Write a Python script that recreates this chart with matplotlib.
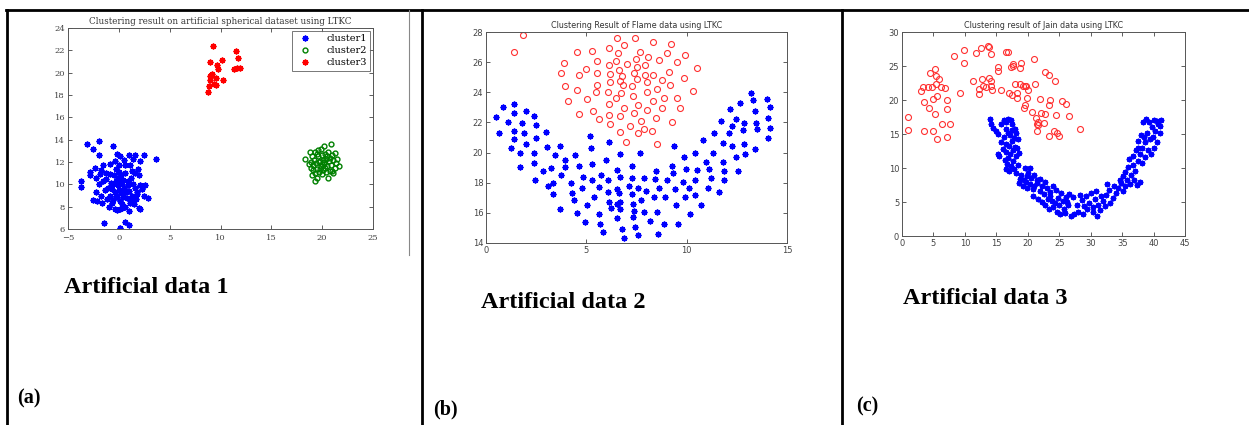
import numpy as np
import matplotlib
matplotlib.use('Agg')
import matplotlib.pyplot as plt
from matplotlib.lines import Line2D

# ---- data panel (a): artificial spherical dataset ----
c1_x = [-3.1, -2.0, -2.5, -2.0, -0.6, -3.7, -3.7, -2.8, -2.8, -2.3, -1.6, -1.3, -1.9, -1.6, -2.0, -2.2,
        -1.8, -2.5, -2.1, -1.7, -1.2, -1.0, -0.7, -0.4, -0.2, 0.1, 0.3, 0.6, 1.0, 1.2, 1.5, 2.0, 2.1,
        -1.5, 0.1, 0.6, 1.0, -0.9, -0.4, -0.2, 0.1, 0.5, 1.0, 1.6, 2.5, 2.1, 3.7, -0.3, 0.0, 0.2, 0.6,
        1.1, 1.3, 1.6, 1.9, 1.2, 0.9, -0.5, -0.8, -0.3, -0.1, 0.3, 0.5, 0.7, -0.7, -0.4, -0.9, -0.2,
        0.2, 0.4, 0.8, 1.0, 1.3, 1.6, 1.8, 2.1, 2.3, 2.6, 2.5, 2.9, 1.4, 1.7, -1.1, -1.4, 0.0, 0.4,
        -0.1, 0.9, 1.1, -0.6, 0.1, -1.3, -0.9, -2.2, -1.8, 1.4, 0.6, 0.0, 2.0, 1.8, 0.3, -0.3, -0.6, 0.2]
c1_y = [13.6, 13.9, 13.2, 12.6, 13.4, 10.3, 9.8, 11.1, 10.8, 11.5, 11.7, 11.0, 10.9, 10.3, 10.0, 9.3,
        9.0, 8.6, 8.5, 8.3, 8.7, 8.0, 8.3, 7.8, 7.7, 7.8, 8.2, 8.0, 7.6, 8.6, 8.2, 7.9, 7.8,
        6.5, 6.1, 6.6, 6.4, 11.8, 12.1, 12.7, 12.5, 12.2, 12.6, 12.6, 12.6, 12.1, 12.3, 11.4, 11.1, 10.8, 11.0,
        11.7, 11.2, 11.0, 11.4, 10.6, 10.3, 10.8, 10.1, 10.3, 9.9, 10.0, 9.7, 9.3, 9.6, 9.3, 9.0, 8.9,
        9.2, 8.9, 8.8, 9.4, 9.0, 9.7, 9.3, 9.9, 9.6, 9.9, 9.0, 8.8, 10.0, 8.7, 9.7, 9.5, 9.5, 10.4,
        10.6, 9.9, 8.3, 8.6, 8.5, 10.5, 10.9, 10.6, 11.3, 12.3, 11.7, 11.7, 10.8, 9.1, 7.9, 9.0, 10.0, 10.2]
c2_x = [18.3, 18.8, 19.0, 19.3, 19.6, 19.9, 20.2, 20.9, 21.3, 21.0, 20.6, 20.3, 20.0, 19.6, 19.2, 18.9,
        18.7, 19.1, 19.4, 19.8, 20.1, 20.4, 20.7, 21.1, 21.4, 21.7, 21.3, 20.9, 20.5, 20.2, 19.9, 19.5,
        19.1, 18.9, 19.3, 19.7, 20.1, 20.4, 20.8, 21.1, 21.5, 19.0, 19.5, 19.3, 20.0, 20.6, 21.0, 20.2,
        19.7, 20.0, 20.3, 19.8, 20.5, 19.5, 20.8]
c2_y = [12.3, 12.9, 12.5, 12.9, 13.1, 13.2, 13.4, 13.6, 12.8, 12.6, 12.9, 12.7, 12.6, 12.5, 12.2, 12.0,
        11.8, 11.7, 11.9, 12.1, 12.2, 12.3, 12.1, 12.2, 11.9, 11.6, 11.5, 11.7, 11.6, 11.8, 11.6, 11.4,
        11.3, 11.5, 11.0, 11.1, 11.3, 11.1, 11.2, 11.0, 12.3, 10.8, 10.6, 10.3, 10.9, 10.6, 11.2, 12.0,
        12.0, 11.8, 11.5, 11.4, 12.5, 12.7, 12.4]
c3_x = [9.3, 11.5, 11.7, 9.0, 10.1, 9.7, 9.8, 11.3, 11.6, 11.9, 9.2, 9.0, 9.6, 9.0, 10.2, 9.4, 9.6, 8.9, 8.8, 9.1]
c3_y = [22.4, 21.9, 21.3, 21.0, 21.1, 20.7, 20.3, 20.3, 20.4, 20.4, 19.9, 19.7, 19.5, 19.3, 19.3, 19.0, 18.9, 18.8, 18.3, 19.8]

# ---- data panel (b): Flame ----
flame_red_x = [1.38, 1.84, 3.89, 3.74, 3.94, 4.09, 4.53, 4.63, 4.52, 4.65,
               5.03, 4.97, 5.28, 5.32, 5.53, 5.53, 5.53, 5.50, 5.65, 6.11,
               6.15, 6.20, 6.20, 6.08, 6.13, 6.13, 6.20, 6.53, 6.58, 6.50,
               6.63, 6.66, 6.50, 6.74, 6.69, 6.69, 6.89, 6.78, 6.81, 6.86,
               6.98, 7.03, 7.16, 7.29, 7.31, 7.36, 7.43, 7.48, 7.52, 7.51,
               7.38, 7.59, 7.56, 7.69, 7.71, 7.91, 7.94, 8.02, 8.02, 8.04,
               8.09, 7.87, 8.31, 8.32, 8.31, 8.26, 8.46, 8.52, 8.52, 8.62,
               8.77, 8.77, 8.85, 9.02, 9.12, 9.19, 9.22, 9.29, 9.52, 9.52,
               9.67, 9.88, 9.90, 10.32, 10.51]
flame_red_y = [26.67, 27.82, 25.94, 25.25, 24.41, 23.43, 26.67, 25.12, 24.14, 22.54,
               23.56, 25.56, 26.76, 22.79, 26.09, 25.25, 24.49, 24.01, 22.21, 26.94,
               25.80, 25.20, 24.69, 24.03, 23.23, 22.50, 21.92, 27.60, 26.60, 26.07,
               25.45, 24.76, 23.59, 23.96, 22.43, 21.34, 27.16, 25.05, 24.47, 22.96,
               20.68, 25.87, 21.77, 24.43, 23.74, 25.25, 27.60, 26.20, 25.65, 24.87,
               22.61, 23.14, 21.32, 26.65, 22.08, 25.18, 25.78, 24.69, 24.03, 22.85,
               26.31, 21.59, 27.36, 25.18, 23.41, 21.46, 22.28, 24.21, 20.59, 26.14,
               24.81, 22.94, 23.65, 26.58, 25.36, 24.49, 27.18, 22.01, 26.03, 23.65,
               22.94, 24.94, 26.49, 24.10, 25.60]
flame_blue_x = [0.51, 0.66, 0.86, 1.10, 1.23, 1.38, 1.38, 1.38, 1.38, 1.71,
                1.71, 1.81, 1.91, 1.98, 2.01, 2.41, 2.48, 2.51, 2.38, 2.38,
                2.43, 2.84, 2.97, 3.04, 3.09, 3.24, 3.34, 3.32, 3.42, 3.70,
                3.75, 3.70, 3.94, 3.94, 4.24, 4.29, 4.37, 4.42, 4.53, 4.62,
                4.83, 4.78, 4.93, 5.03, 5.18, 5.23, 5.28, 5.28, 5.40, 5.65,
                5.63, 5.70, 5.75, 5.83, 6.00, 6.06, 6.08, 6.13, 6.15, 6.25,
                6.53, 6.53, 6.54, 6.53, 6.69, 6.69, 6.64, 6.69, 6.69, 6.79,
                6.86, 7.11, 7.29, 7.29, 7.29, 7.31, 7.33, 7.36, 7.44, 7.56,
                7.57, 7.66, 7.74, 7.86, 7.97, 7.89, 8.19, 8.39, 8.44, 8.47,
                8.52, 8.55, 8.62, 8.85, 8.94, 9.02, 9.27, 9.30, 9.35, 9.40,
                9.49, 9.57, 9.82, 9.85, 9.93, 9.98, 10.15, 10.12, 10.42, 10.43,
                10.43, 10.51, 10.73, 10.81, 10.98, 11.05, 11.11, 11.21, 11.35, 11.30,
                11.63, 11.73, 11.79, 11.81, 11.84, 11.88, 12.09, 12.18, 12.26, 12.28,
                12.46, 12.46, 12.56, 12.67, 12.79, 12.84, 12.87, 12.89, 13.22, 13.29,
                13.42, 13.42, 13.44, 13.50, 14.00, 14.04, 14.07, 14.14, 14.14]
flame_blue_y = [22.34, 21.32, 23.05, 22.01, 20.32, 23.23, 22.65, 21.43, 20.88, 19.95,
                19.01, 21.99, 21.28, 22.79, 20.59, 22.41, 21.81, 20.97, 19.99, 19.33,
                18.17, 18.81, 21.34, 20.39, 17.75, 18.95, 17.99, 17.24, 19.86, 20.41,
                18.50, 16.24, 19.52, 19.06, 17.99, 17.35, 16.88, 19.86, 16.02, 19.08,
                18.39, 17.62, 15.40, 16.51, 21.12, 20.32, 19.21, 18.17, 17.06, 17.73,
                15.91, 15.24, 18.53, 14.75, 19.52, 18.17, 17.39, 20.70, 16.71, 16.33,
                15.64, 16.57, 17.59, 18.86, 19.88, 18.35, 17.33, 16.73, 16.24, 14.93,
                14.36, 17.77, 19.13, 18.28, 17.24, 16.62, 15.73, 16.13, 15.07, 17.66,
                14.55, 19.99, 16.88, 18.28, 17.42, 16.06, 15.44, 17.02, 18.24, 18.75,
                16.04, 14.58, 17.66, 15.29, 17.06, 18.17, 19.13, 18.66, 20.46, 17.57,
                16.53, 15.24, 18.08, 19.70, 17.06, 18.90, 15.95, 17.66, 19.95, 18.15,
                17.17, 18.84, 16.53, 20.83, 19.39, 17.62, 18.93, 18.30, 21.28, 19.99,
                17.39, 22.08, 20.61, 19.39, 18.79, 18.17, 21.28, 22.88, 21.77, 20.43,
                22.25, 19.72, 18.81, 23.27, 21.50, 21.94, 20.57, 19.88, 23.98, 23.50,
                22.79, 20.26, 21.94, 21.54, 23.56, 22.28, 20.97, 23.05, 21.61]

# ---- data panel (c): Jain ----
jain_red_x = [1.0, 0.9, 3.1, 3.4, 3.5, 3.5, 4.2, 4.3, 4.7, 4.5, 4.9, 4.9, 5.3, 5.4, 5.3, 5.4, 5.6, 5.5,
              5.9, 6.2, 6.4, 6.8, 7.1, 7.1, 7.2, 7.6, 8.2, 9.3, 9.8, 9.9, 11.3, 11.8, 12.3, 12.3, 12.6,
              12.7, 12.9, 13.3, 13.7, 13.8, 13.9, 14.1, 14.2, 14.2, 14.3, 15.2, 15.2, 15.8, 16.5, 16.8,
              17.0, 17.3, 17.5, 17.6, 17.7, 18.0, 18.3, 18.3, 18.7, 18.8, 19.0, 19.3, 19.4, 19.5, 19.6,
              19.7, 19.8, 20.1, 20.7, 21.0, 21.2, 21.3, 21.4, 21.5, 21.6, 21.7, 22.0, 22.1, 22.5, 22.7,
              22.8, 23.3, 23.4, 23.4, 23.6, 24.1, 24.3, 24.5, 24.6, 25.0, 25.5, 26.0, 26.5, 28.3]
jain_red_y = [17.5, 15.6, 21.3, 21.9, 19.7, 15.5, 21.9, 18.8, 21.9, 24.0, 20.1, 15.5, 24.5, 23.5, 18.0,
              22.3, 20.6, 14.2, 23.1, 21.9, 16.4, 21.8, 20.0, 18.7, 14.5, 16.5, 26.4, 21.1, 25.5, 27.4,
              22.8, 26.9, 21.6, 20.9, 27.6, 23.1, 22.1, 21.9, 27.9, 27.8, 23.3, 26.8, 22.8, 22.1, 21.5,
              24.9, 24.2, 21.5, 27.1, 27.0, 21.1, 24.8, 20.8, 25.3, 25.0, 22.4, 21.0, 20.3, 22.3, 24.7,
              25.4, 22.1, 18.8, 22.1, 19.2, 22.0, 20.3, 21.5, 18.3, 26.0, 22.4, 17.3, 16.5, 15.5, 16.8,
              16.3, 20.2, 18.1, 16.6, 18.0, 24.1, 19.2, 23.7, 14.7, 20.0, 15.4, 22.8, 17.8, 15.1, 14.7,
              19.9, 19.4, 17.6, 15.7]
jain_blue_x = [14.0, 14.2, 14.5, 15.0, 15.3, 15.8, 16.2, 16.6, 16.8, 17.3, 16.5, 16.9, 17.2, 17.5, 17.8,
               16.2, 15.8, 16.5, 17.0, 17.5, 18.0, 16.0, 16.6, 17.2, 15.2, 15.5, 16.3, 16.9, 17.6, 18.1,
               18.6, 16.7, 17.3, 16.5, 17.0, 17.8, 18.5, 18.2, 18.8, 19.0, 19.4, 19.8, 20.0, 20.5, 21.0,
               21.4, 18.6, 19.2, 19.8, 20.3, 20.8, 21.5, 22.0, 22.3, 21.9, 22.6, 23.0, 23.5, 24.0, 24.5,
               20.9, 21.6, 22.2, 22.8, 23.2, 23.8, 24.3, 24.8, 25.3, 25.6, 26.1, 26.6, 23.4, 24.0, 24.6,
               25.2, 25.7, 26.4, 26.9, 27.4, 28.0, 27.8, 28.6, 29.0, 29.4, 29.8, 30.3, 30.7, 31.2, 30.4,
               31.5, 29.2, 30.1, 30.8, 31.6, 32.0, 32.4, 32.9, 32.6, 33.1, 33.5, 34.0, 34.4, 34.8, 35.1,
               35.5, 35.8, 36.2, 36.4, 36.9, 37.3, 37.8, 35.5, 36.0, 36.7, 37.0, 37.5, 37.9, 38.2, 38.6,
               38.1, 38.6, 39.1, 39.6, 40.1, 38.5, 39.0, 39.4, 39.8, 40.3, 40.7, 41.1, 38.3, 38.8, 39.3,
               40.0, 40.6, 41.2, 37.6, 37.2, 38.0, 36.8, 17.5, 17.9, 18.2, 18.4, 17.6, 18.3, 19.5, 20.4,
               19.7, 21.0, 22.7, 23.6, 24.9, 25.9, 26.2, 27.2, 28.3, 28.8, 31.0, 32.2, 33.7, 34.6, 35.2,
               36.1, 37.5, 39.9, 40.5, 41.0]
jain_blue_y = [17.2, 16.5, 15.9, 15.5, 15.0, 16.4, 17.1, 16.7, 17.2, 17.0, 15.8, 15.2, 14.8, 15.6, 14.4,
               14.6, 13.8, 13.6, 13.2, 13.9, 13.1, 12.8, 12.4, 12.1, 12.0, 11.7, 11.2, 11.5, 11.0, 11.8,
               12.2, 10.6, 10.3, 9.9, 9.6, 9.8, 10.5, 9.2, 8.4, 9.0, 8.2, 8.8, 9.2, 8.6, 8.9,
               8.3, 7.8, 7.3, 7.0, 7.6, 6.9, 7.8, 8.4, 7.3, 6.6, 6.2, 7.0, 6.5, 7.4, 6.8,
               5.9, 5.4, 5.0, 4.6, 5.5, 5.2, 4.8, 5.6, 6.3, 5.1, 5.8, 6.2, 3.9, 4.2, 3.6,
               3.3, 4.0, 4.5, 3.0, 3.2, 3.6, 4.6, 5.3, 4.4, 3.9, 4.9, 4.2, 5.4, 4.6, 3.5,
               3.8, 5.9, 6.3, 6.6, 5.9, 5.1, 6.0, 6.8, 7.7, 4.9, 5.6, 6.3, 7.0, 7.8, 6.6,
               7.3, 8.3, 7.6, 9.0, 8.2, 7.5, 7.9, 9.4, 10.1, 10.4, 9.6, 11.0, 12.0, 10.7, 11.6,
               13.0, 13.8, 12.6, 12.1, 12.9, 14.6, 15.2, 14.3, 16.0, 15.4, 16.5, 15.1, 16.7, 17.2, 16.8,
               17.0, 16.9, 17.0, 14.0, 12.6, 14.9, 11.7, 16.4, 15.7, 15.2, 14.2, 12.7, 12.9, 10.0, 10.0,
               8.0, 7.4, 8.0, 5.9, 4.5, 3.4, 5.0, 5.7, 6.0, 3.2, 3.0, 4.4, 7.4, 8.3, 8.8,
               11.3, 12.9, 14.5, 13.8, 16.2]

W, H = 1249, 425
fig = plt.figure(figsize=(W / 100, H / 100), dpi=100)


def box(x0, y0, x1, y1):
    # pixel box (top-left origin) -> figure fraction rect
    return [x0 / W, (H - y1) / H, (x1 - x0) / W, (y1 - y0) / H]


def matlab_axes(rect, title, family, tsize):
    ax = fig.add_axes(rect)
    ax.set_title(title, fontsize=tsize, family=family, color='#333333', pad=3)
    ax.tick_params(direction='in', top=True, right=True, length=3, width=0.6,
                   labelsize=6, colors='#444444', pad=2)
    for s in ax.spines.values():
        s.set_color('#555555')
        s.set_linewidth(0.7)
    return ax


star = (8, 2, 0)  # asterisk like matlab '*'

# (a)
ax1 = matlab_axes(box(68, 28, 373, 229),
                  'Clustering result on artificial spherical dataset using LTKC', 'DejaVu Serif', 6.3)
ax1.plot(c1_x, c1_y, ls='none', marker=star, ms=4.2, mew=1.1, color='blue', label='cluster1')
ax1.plot(c2_x, c2_y, ls='none', marker='o', ms=3.5, mew=1.0, mfc='none', color='green', label='cluster2')
ax1.plot(c3_x, c3_y, ls='none', marker=star, ms=4.2, mew=1.1, color='red', label='cluster3')
ax1.set_xlim(-5, 25)
ax1.set_ylim(6, 24)
ax1.set_xticks(np.arange(-5, 26, 5))
ax1.set_yticks(np.arange(6, 25, 2))
ax1.tick_params(axis='x', pad=3.5)
for lab in ax1.get_xticklabels() + ax1.get_yticklabels():
    lab.set_family('DejaVu Serif')
leg = ax1.legend(loc='upper right', prop={'family': 'DejaVu Serif', 'size': 7},
                 fancybox=False, edgecolor='#555555', borderpad=0.35, labelspacing=0.3,
                 handletextpad=1.2, borderaxespad=0.3)
leg.get_frame().set_linewidth(0.7)

# (b)
ax2 = matlab_axes(box(486, 32, 787, 243), 'Clustering Result of Flame data using LTKC', 'DejaVu Sans', 5.8)
ax2.plot(flame_blue_x, flame_blue_y, ls='none', marker=star, ms=4.2, mew=1.1, color='blue')
ax2.plot(flame_red_x, flame_red_y, ls='none', marker='o', ms=4.3, mew=0.8, mfc='none', color='#ff3030')
ax2.set_xlim(0, 15)
ax2.set_ylim(14, 28)
ax2.set_xticks([0, 5, 10, 15])
ax2.set_yticks(np.arange(14, 29, 2))

# (c)
ax3 = matlab_axes(box(902, 32, 1185, 236), 'Clustering result of Jain data using LTKC', 'DejaVu Sans', 5.8)
ax3.plot(jain_blue_x, jain_blue_y, ls='none', marker=star, ms=4.0, mew=1.1, color='blue')
ax3.plot(jain_red_x, jain_red_y, ls='none', marker='o', ms=4.3, mew=0.8, mfc='none', color='#ff3030')
ax3.set_xlim(0, 45)
ax3.set_ylim(0, 30)
ax3.set_xticks(np.arange(0, 46, 5))
ax3.set_yticks(np.arange(0, 31, 5))


# table frame lines (pixel coords)
def hline(y, x0, x1, lw=2.0, c='black'):
    fig.add_artist(Line2D([x0 / W, x1 / W], [(H - y) / H] * 2, lw=lw, color=c))


def vline(x, y0, y1, lw=2.0, c='black'):
    fig.add_artist(Line2D([x / W] * 2, [(H - y0) / H, (H - y1) / H], lw=lw, color=c))


hline(10, 6, 1248)
vline(6.5, 10, 425)
vline(421.5, 10, 425)
vline(842.5, 10, 425)
vline(409, 10, 255, lw=0.8, c='#888888')

# captions (baseline positions in pixels)
cap = dict(family='Liberation Serif', weight='bold', color='black', va='baseline', ha='left')
fig.text(64 / W, (H - 293) / H, 'Artificial data 1', fontsize=17.5, **cap)
fig.text(481 / W, (H - 308) / H, 'Artificial data 2', fontsize=17.5, **cap)
fig.text(903 / W, (H - 304) / H, 'Artificial data 3', fontsize=17.5, **cap)
fig.text(17 / W, (H - 403) / H, '(a)', fontsize=14.5, **cap)
fig.text(433 / W, (H - 414) / H, '(b)', fontsize=14.5, **cap)
fig.text(856 / W, (H - 411) / H, '(c)', fontsize=14.5, **cap)

fig.savefig('out.png', dpi=100)
